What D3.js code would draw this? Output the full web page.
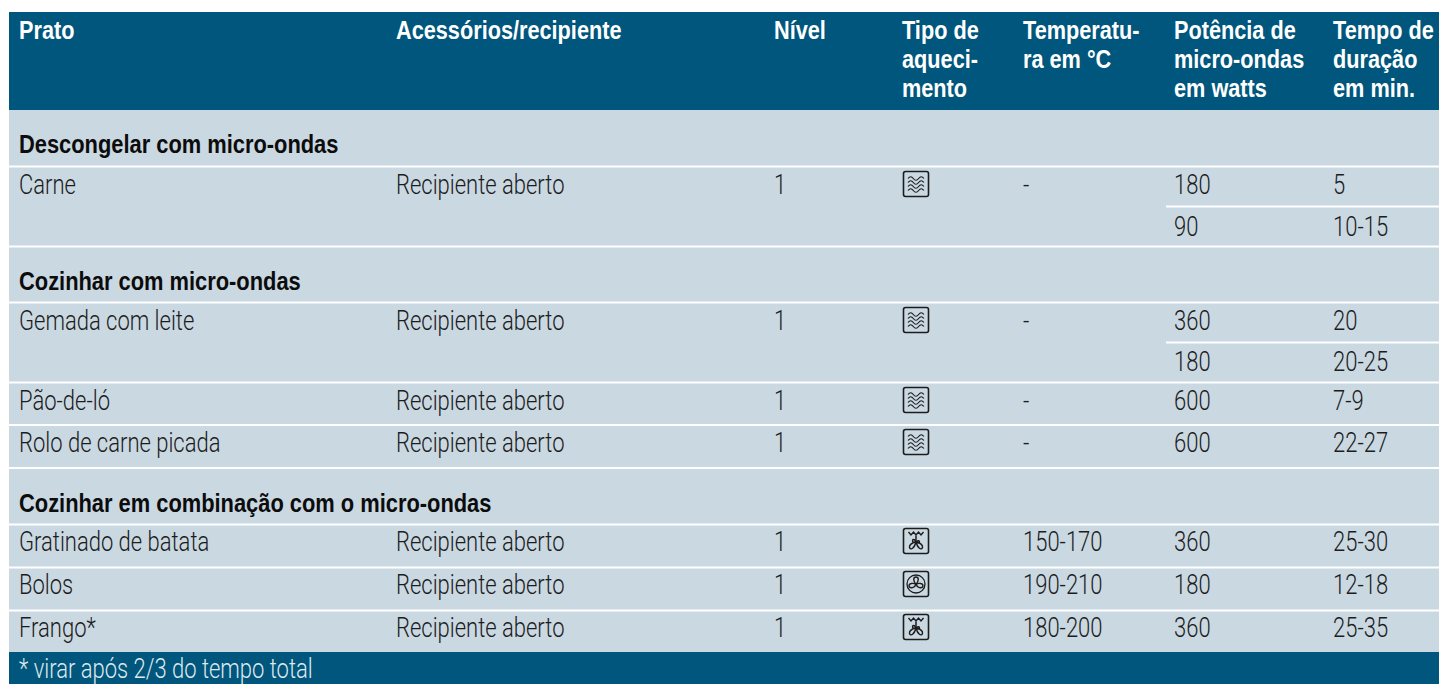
<!DOCTYPE html>
<html>
<head>
<meta charset="utf-8">
<script src="https://cdn.jsdelivr.net/npm/d3@7"></script>
<style>
  html, body { margin: 0; padding: 0; background: #fff; overflow: hidden; }
</style>
</head>
<body>
<div class="canvas"></div>
<script>
// cabecalho
var headers = [
  ["Prato"],
  ["Acessórios/recipiente"],
  ["Nível"],
  ["Tipo de", "aqueci-", "mento"],
  ["Temperatu-", "ra em °C"],
  ["Potência de", "micro-ondas", "em watts"],
  ["Tempo de", "duração", "em min."]
];
var columns = ["prato", "acessorio", "nivel", "tipo", "temp", "potencia", "tempo"];
var columnX = [19, 396, 774, 902, 1023, 1174, 1333];

// dados da tabela
var sections = ["Descongelar com micro-ondas", "Cozinhar com micro-ondas", "Cozinhar em combinação com o micro-ondas"];
var pratos = ["Carne", "", "Gemada com leite", "", "Pão-de-ló", "Rolo de carne picada", "Gratinado de batata", "Bolos", "Frango*"];
var recipientes = ["Recipiente aberto", "", "Recipiente aberto", "", "Recipiente aberto", "Recipiente aberto", "Recipiente aberto", "Recipiente aberto", "Recipiente aberto"];
var niveis = ["1", "", "1", "", "1", "1", "1", "1", "1"];
var icones = ["micro", "", "micro", "", "micro", "micro", "grelha", "ventilador", "grelha"];
var temperaturas = ["-", "", "-", "", "-", "-", "150-170", "190-210", "180-200"];
var potencias = ["180", "90", "360", "180", "600", "600", "360", "180", "360"];
var tempos = ["5", "10-15", "20", "20-25", "7-9", "22-27", "25-30", "12-18", "25-35"];
var footnote = "* virar após 2/3 do tempo total";

// baselines
var rowY = [194, 236, 330, 371, 410, 452, 551, 594, 637];
var sectionY = [153, 290, 512];
// linhas brancas inteiras e parciais
var fullRules = [166.5, 246.5, 302.5, 382.5, 425, 468, 524.5, 567.5, 610.5];
var partialRules = [206.5, 342.5];

var width = 1439, height = 684;
var FONT = "Roboto, 'Liberation Sans', sans-serif";
var BOLD = "'Liberation Sans', sans-serif";
var x = d3.scaleOrdinal().domain(columns).range(columnX);

var svg = d3.select(".canvas").append("svg")
  .attr("width", width)
  .attr("height", height)
  .style("display", "block");

svg.append("rect").attr("x", 9).attr("y", 110).attr("width", width - 9).attr("height", 543).attr("fill", "#cad8e2");
svg.append("rect").attr("x", 9).attr("y", 12).attr("width", width - 9).attr("height", 98).attr("fill", "#00567c");
svg.append("rect").attr("x", 9).attr("y", 652).attr("width", width - 9).attr("height", 32).attr("fill", "#00567c");

// texto comprimido na horizontal
function texto(px, py, str, size, sx, fill, bold) {
  return svg.append("text")
    .attr("transform", "translate(" + px + "," + py + ") scale(" + sx + ",1)")
    .attr("font-family", bold ? BOLD : FONT)
    .attr("font-weight", bold ? 700 : 300)
    .attr("font-size", size + "px")
    .attr("fill", fill)
    .text(str);
}

// cabecalho
columns.forEach(function(c, i) {
  headers[i].forEach(function(line, j) {
    texto(x(c), 38.5 + 29.3 * j, line, 26, 0.835, "#fff", true);
  });
});

// linhas brancas
svg.selectAll(".full").data(fullRules).enter().append("line")
  .attr("x1", 9).attr("x2", width)
  .attr("y1", function(d) { return d; }).attr("y2", function(d) { return d; })
  .attr("stroke", "#fff").attr("stroke-width", 2);
svg.selectAll(".partial").data(partialRules).enter().append("line")
  .attr("x1", 1166).attr("x2", width)
  .attr("y1", function(d) { return d; }).attr("y2", function(d) { return d; })
  .attr("stroke", "#fff").attr("stroke-width", 2);

// secoes
sections.forEach(function(s, i) {
  texto(x("prato"), sectionY[i], s, 25, 0.875, "#0c0c0c", true);
});

// celulas
function coluna(nome, valores) {
  valores.forEach(function(v, i) {
    if (v) texto(x(nome), rowY[i], v, 27, 0.815, "#1c1c1c", false);
  });
}
coluna("prato", pratos);
coluna("acessorio", recipientes);
coluna("nivel", niveis);
coluna("temp", temperaturas);
coluna("potencia", potencias);
coluna("tempo", tempos);

// icones
function linha(g, d, w) {
  g.append("path").attr("d", d).attr("fill", "none").attr("stroke", "#1c1c1c").attr("stroke-width", w);
}
function icone(d, i) {
  if (!d) return;
  var g = svg.append("g").attr("transform", "translate(903.5," + (rowY[i] - 22.5) + ")");
  g.append("rect").attr("x", 0).attr("y", 0).attr("width", 25).attr("height", 25).attr("rx", 2)
    .attr("fill", "none").attr("stroke", "#1c1c1c").attr("stroke-width", 1.6);
  if (d == "micro") {
    [7, 11, 15, 19].forEach(function(y) {
      linha(g, "M4.5 " + y + "q2.7 -3.5 5.3 0t5.3 0t5.3 0", 1.2);
    });
  } else if (d == "grelha") {
    linha(g, "M5 3.5l2.5 3l2.5 -3l2.5 3l2.5 -3l2.5 3l2.5 -3", 1.4);
    linha(g, "M12.5 7v5", 1.5);
    linha(g, "M12.5 13c-2 -3 -3.5 -2 -3.5 -0.5c0 1.5 2 1.5 3.5 0.5c2 -1 3.5 -1 3.5 0.5c0 1.5 -2 1.5 -3.5 -0.5M12.5 13c-3 1 -7 3 -6.5 6c1 3 5 1 6.5 -6c1.5 7 5.5 9 6.5 6c0.5 -3 -3.5 -5 -6.5 -6", 1.4);
  } else {
    g.append("circle").attr("cx", 12.5).attr("cy", 12.5).attr("r", 9).attr("fill", "none").attr("stroke", "#1c1c1c").attr("stroke-width", 1.3);
    linha(g, "M12.5 12.5c-3 -3 -3 -7 0 -7c3 0 3 4 0 7c-1 4 -6 5 -7 2c0 -3 4 -3 7 -2c3 -1 7 -1 7 2c-1 3 -6 2 -7 -2", 1.4);
  }
}
icones.forEach(icone);

// nota
texto(x("prato"), 678, footnote, 27, 0.815, "#dfe8ee", false);
</script>
</body>
</html>
